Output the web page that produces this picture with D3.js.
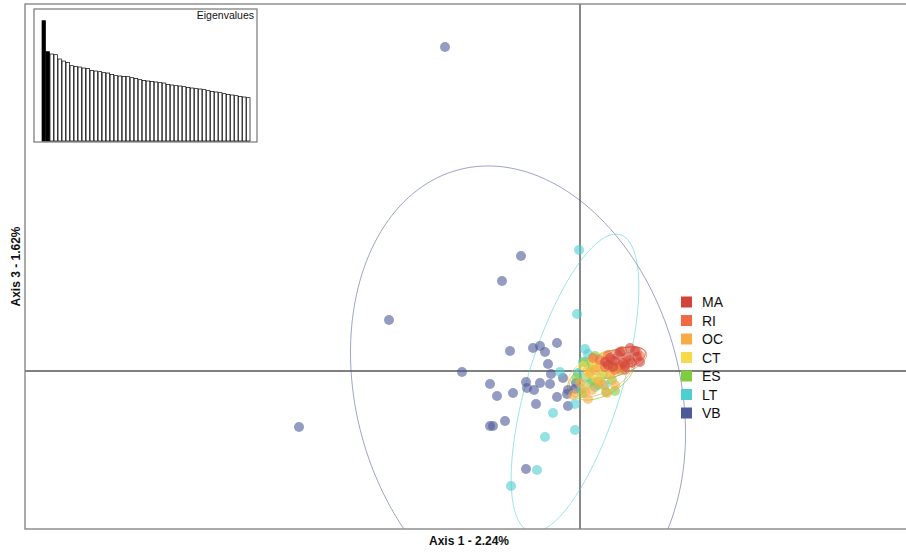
<!DOCTYPE html>
<html>
<head>
<meta charset="utf-8">
<script src="https://cdn.jsdelivr.net/npm/d3@7/dist/d3.min.js"></script>
<style>
  html, body { margin: 0; padding: 0; background: #fff; }
  svg { display: block; font-family: "Liberation Sans", Arial, Helvetica, sans-serif; }
</style>
</head>
<body>
<svg id="chart" width="906" height="552"></svg>
<script>
// Populations, drawn back to front (legend lists them top to bottom in reverse)
const groups = ["MA", "RI", "OC", "CT", "ES", "LT", "VB"];
const groupColors = ["#D2433A", "#F26A44", "#F8AC45", "#F8D94A", "#80CC3F", "#4DCFD0", "#4E5A9A"];

// Individual scores on axis 1 (x) and axis 3 (y)
const scoresVB = [
  [-2.70, 6.48], [-1.18, 2.30], [-1.56, 1.80], [-3.82, 1.02], [-5.62, -1.12],
  [-2.36, -0.02], [-1.40, 0.40], [-0.94, 0.46], [-0.80, 0.50], [-0.70, 0.38],
  [-0.46, 0.56], [-0.64, 0.14], [-0.58, -0.06], [-1.80, -0.26], [-1.08, -0.22],
  [-0.80, -0.24], [-0.60, -0.26], [-0.34, -0.14], [-1.66, -0.50], [-1.34, -0.44],
  [-1.06, -0.34], [-0.92, -0.38], [-0.46, -0.52], [-0.26, -0.46], [-0.24, -0.38],
  [-0.88, -0.66], [-0.24, -0.70], [-1.50, -1.00], [-1.80, -1.10], [-1.74, -1.10],
  [-1.08, -1.96], [-0.08, -0.24], [-0.10, -0.36]
];
const scoresLT = [
  [-0.02, 2.42], [-0.06, 1.14], [0.10, 0.44], [-0.40, -0.02], [-0.54, -0.84],
  [-0.10, -0.66], [-0.10, -1.18], [-0.70, -1.32], [-0.86, -1.98], [-1.38, -2.30],
  [0.06, 0.18], [-0.04, -0.04], [0.20, -0.24], [0.26, 0.08], [0.10, -0.14],
  [0.30, -0.32], [0.04, -0.36], [0.40, -0.14], [0.16, 0.34], [0.50, -0.28]
];
const scoresES = [
  [0.30, 0.30], [0.52, -0.42], [0.04, -0.44], [-0.06, -0.14], [0.46, -0.08],
  [0.20, 0.06], [0.64, -0.18], [0.10, 0.18], [0.36, -0.28], [0.80, 0.02],
  [0.70, -0.40], [0.24, -0.20]
];
const scoresCT = [
  [0.34, 0.06], [0.14, -0.08], [0.26, 0.22], [0.46, -0.02], [0.06, 0.10],
  [0.40, -0.18], [0.56, 0.12], [0.20, -0.02], [0.32, -0.14], [0.64, -0.02],
  [0.50, 0.30], [0.10, -0.30], [0.28, 0.14], [0.72, 0.08]
];
const scoresOC = [
  [0.20, -0.02], [0.36, -0.22], [0.24, -0.38], [-0.14, -0.48], [0.46, -0.28],
  [0.00, -0.24], [0.60, -0.08], [0.10, -0.42], [0.40, 0.12], [0.80, 0.06],
  [0.70, -0.28], [0.54, -0.44], [0.30, 0.02], [0.90, 0.18], [0.16, -0.56]
];
const scoresRI = [
  [0.40, 0.22], [0.50, 0.08], [0.26, 0.26], [0.64, 0.22], [0.80, 0.12],
  [1.00, 0.22], [0.70, 0.02], [0.56, 0.32], [1.14, 0.38], [0.90, 0.02],
  [1.20, 0.30], [0.84, 0.40]
];
const scoresMA = [
  [0.60, 0.26], [0.70, 0.20], [0.76, 0.32], [1.00, 0.46], [1.14, 0.28],
  [0.94, 0.28], [0.86, 0.16], [1.04, 0.16], [0.56, 0.12], [0.66, 0.08],
  [0.80, 0.38], [1.20, 0.18], [0.50, 0.18], [1.10, 0.40], [0.90, 0.10]
];

// Inertia ellipses per population: centre x, centre y, semi-axis along x, semi-axis along y, rotation (deg, counter-clockwise)
const ellipseVB = [-1.24, -0.44, 3.24, 4.62, 15];
const ellipseLT = [-0.10, -0.24, 0.94, 3.10, -17];
const ellipseES = [0.44, -0.08, 0.72, 0.40, 30];
const ellipseCT = [0.34, 0.00, 0.62, 0.30, 25];
const ellipseOC = [0.40, -0.10, 0.70, 0.34, 25];
const ellipseRI = [0.70, 0.16, 0.66, 0.26, 18];
const ellipseMA = [0.88, 0.26, 0.44, 0.20, 15];

// Eigenvalues of the analysis (scree inset)
const eigenvalues = [
  361, 268, 261, 259, 246, 240, 236, 226, 224, 222,
  219, 218, 212, 210, 208, 205, 204, 200, 196, 195,
  194, 193, 190, 188, 184, 182, 180, 179, 177, 175,
  174, 170, 168, 166, 165, 163, 161, 159, 157, 156,
  154, 151, 149, 147, 145, 142, 140, 138, 136, 134,
  132, 130
];
const shownAxes = [0, 1];

const axisTitleX = "Axis 1 - 2.24%";
const axisTitleY = "Axis 3 - 1.62%";

const scoresByGroup = { VB: scoresVB, LT: scoresLT, ES: scoresES, CT: scoresCT, OC: scoresOC, RI: scoresRI, MA: scoresMA };
const ellipseByGroup = { VB: ellipseVB, LT: ellipseLT, ES: ellipseES, CT: ellipseCT, OC: ellipseOC, RI: ellipseRI, MA: ellipseMA };
const color = d3.scaleOrdinal().domain(groups).range(groupColors);

const svg = d3.select("#chart");
const frame = { left: 25, top: 4, right: 913, bottom: 529 };

const x = d3.scaleLinear().domain([-11.1, 6.66]).range([frame.left, frame.right]);
const y = d3.scaleLinear().domain([-3.16, 7.34]).range([frame.bottom, frame.top]);

svg.append("clipPath").attr("id", "plot-clip")
  .append("rect")
  .attr("x", frame.left).attr("y", frame.top)
  .attr("width", frame.right - frame.left).attr("height", frame.bottom - frame.top);

const plot = svg.append("g").attr("clip-path", "url(#plot-clip)");

// Origin lines
plot.append("line")
  .attr("x1", x(0)).attr("x2", x(0))
  .attr("y1", frame.top).attr("y2", frame.bottom)
  .attr("stroke", "#555").attr("stroke-width", 1.4);
plot.append("line")
  .attr("x1", frame.left).attr("x2", frame.right)
  .attr("y1", y(0)).attr("y2", y(0))
  .attr("stroke", "#555").attr("stroke-width", 1.4);

// Ellipse outline sampled in data space, then mapped through the scales
function ellipsePoints(e) {
  const [cx, cy, a, b, deg] = e;
  const th = deg * Math.PI / 180;
  return d3.range(0, 180).map(i => {
    const t = i / 180 * 2 * Math.PI;
    const ex = a * Math.cos(t), ey = b * Math.sin(t);
    return [cx + ex * Math.cos(th) - ey * Math.sin(th), cy + ex * Math.sin(th) + ey * Math.cos(th)];
  });
}
const ellipseLine = d3.line().x(d => x(d[0])).y(d => y(d[1])).curve(d3.curveLinearClosed);

const drawOrder = groups.slice().reverse();
drawOrder.forEach(g => {
  plot.append("path")
    .attr("d", ellipseLine(ellipsePoints(ellipseByGroup[g])))
    .attr("fill", "none")
    .attr("stroke", color(g))
    .attr("stroke-opacity", g === "VB" || g === "LT" ? 0.55 : 0.75)
    .attr("stroke-width", 1);
});

drawOrder.forEach(g => {
  plot.append("g").selectAll("circle")
    .data(scoresByGroup[g])
    .join("circle")
    .attr("cx", d => x(d[0]))
    .attr("cy", d => y(d[1]))
    .attr("r", 5)
    .attr("fill", color(g))
    .attr("fill-opacity", 0.6);
});

// Frame
svg.append("rect")
  .attr("x", frame.left).attr("y", frame.top)
  .attr("width", frame.right - frame.left).attr("height", frame.bottom - frame.top)
  .attr("fill", "none").attr("stroke", "#888").attr("stroke-width", 1.4);

// Eigenvalue inset
const inset = { left: 34, top: 9, width: 223, height: 133 };
const ig = svg.append("g");
ig.append("rect")
  .attr("x", inset.left).attr("y", inset.top)
  .attr("width", inset.width).attr("height", inset.height)
  .attr("fill", "#fff").attr("stroke", "#777").attr("stroke-width", 1.2);
const bx = d3.scaleBand().domain(d3.range(eigenvalues.length)).range([42, 250]).paddingInner(0.12);
const by = d3.scaleLinear().domain([0, d3.max(eigenvalues)]).range([141, 20.7]);
ig.selectAll("rect.bar")
  .data(eigenvalues)
  .join("rect")
  .attr("class", "bar")
  .attr("x", (d, i) => bx(i))
  .attr("width", bx.bandwidth())
  .attr("y", d => by(d))
  .attr("height", d => by(0) - by(d))
  .attr("fill", (d, i) => shownAxes.includes(i) ? "#000" : "#fff")
  .attr("stroke", "#000")
  .attr("stroke-width", 0.7);
ig.append("text")
  .attr("x", inset.left + inset.width - 3)
  .attr("y", inset.top + 9.5)
  .attr("text-anchor", "end")
  .attr("font-size", 10.5)
  .attr("fill", "#111")
  .text("Eigenvalues");

// Legend
const legend = svg.append("g").attr("transform", "translate(681,302)");
groups.forEach((g, i) => {
  const row = legend.append("g").attr("transform", `translate(0,${i * 18.5})`);
  row.append("rect").attr("x", 0).attr("y", -5.5).attr("width", 11).attr("height", 11).attr("fill", color(g));
  row.append("text").attr("x", 21).attr("y", 5).attr("font-size", 14).attr("fill", "#111").text(g);
});

// Axis titles
svg.append("text")
  .attr("x", (frame.left + frame.right) / 2)
  .attr("y", 545)
  .attr("text-anchor", "middle")
  .attr("font-size", 12)
  .attr("font-weight", "bold")
  .attr("fill", "#111")
  .text(axisTitleX);
svg.append("text")
  .attr("transform", `translate(20,${(frame.top + frame.bottom) / 2}) rotate(-90)`)
  .attr("text-anchor", "middle")
  .attr("font-size", 12)
  .attr("font-weight", "bold")
  .attr("fill", "#111")
  .text(axisTitleY);
</script>
</body>
</html>
